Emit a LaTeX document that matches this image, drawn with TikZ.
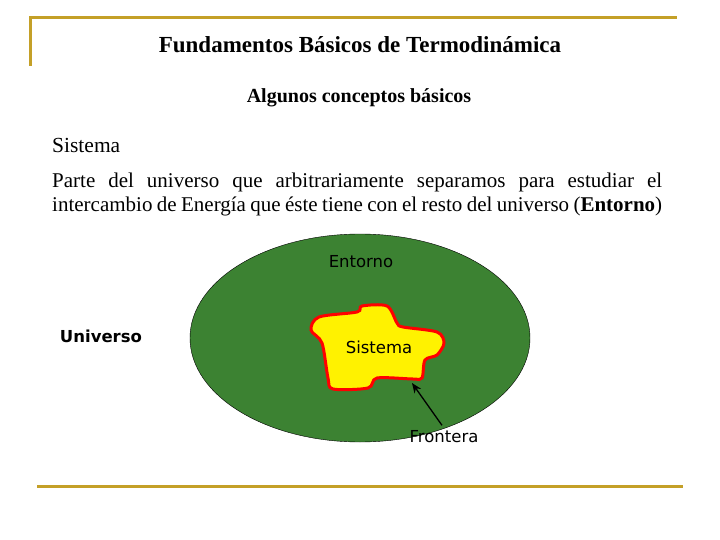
\documentclass[tikz,border=0pt]{standalone}
\usepackage{fontspec}
\setmainfont{Liberation Serif}
\newfontfamily\comic{DejaVu Sans}
\usetikzlibrary{arrows.meta}
\definecolor{gold}{RGB}{196,160,40}
\definecolor{dgreen}{RGB}{60,130,50}
\begin{document}
\begin{tikzpicture}[x=1pt,y=-1pt,
  goldline/.style={gold,line width=3pt},
  lbl/.style={font=\comic\fontsize{16.5}{18}\selectfont}]
\useasboundingbox (0,0) rectangle (720,540);
\draw[goldline] (30,66) -- (30,18) -- (677,18);
\draw[goldline] (37,486) -- (683,486);
\node[font=\bfseries\fontsize{23}{26}\selectfont] (t) at (360,45) {Fundamentos Básicos de Termodinámica};
\node[font=\bfseries\fontsize{20}{22}\selectfont] (st) at (359,98) {Algunos conceptos básicos};
\node[anchor=west,font=\fontsize{21.5}{24}\selectfont,inner sep=0] (s) at (52,145) {Sistema};
\node[anchor=north west,font=\fontsize{21}{24}\selectfont,inner sep=0,text width=610pt,align=justify] (p) at (52,173)
 {\hyphenpenalty=10000 Parte del universo que arbitrariamente separamos para estudiar el\linebreak intercambio de Energía que éste tiene con el resto del universo (\textbf{Entorno})};
\draw[black,fill=dgreen] (360,338) ellipse [x radius=170, y radius=104];
\draw[red,line width=3pt,fill=yellow] plot[smooth cycle,tension=0.5] coordinates{
(311,330) (319,317) (357,312) (362,306) (387,306) (397,323) (403,327) (437,332) (444,343) (437,355) (425,360) (422,378) (413,379) (377,378) (368,388) (333,389) (328,378) (322,343)};
\node[lbl] (ent) at (361,262) {Entorno};
\node[lbl] (sis) at (379,347) {Sistema};
\node[lbl,font=\comic\bfseries\fontsize{16.5}{18}\selectfont] (uni) at (101,336) {Universo};
\node[lbl] (fr) at (444,437) {Frontera};
\coordinate (fp) at (412,383);
\draw[-{Stealth[length=10pt,width=8pt]},line width=1.3pt] (fr.north) ++(-2,-2) -- (fp);
\end{tikzpicture}
\end{document}
